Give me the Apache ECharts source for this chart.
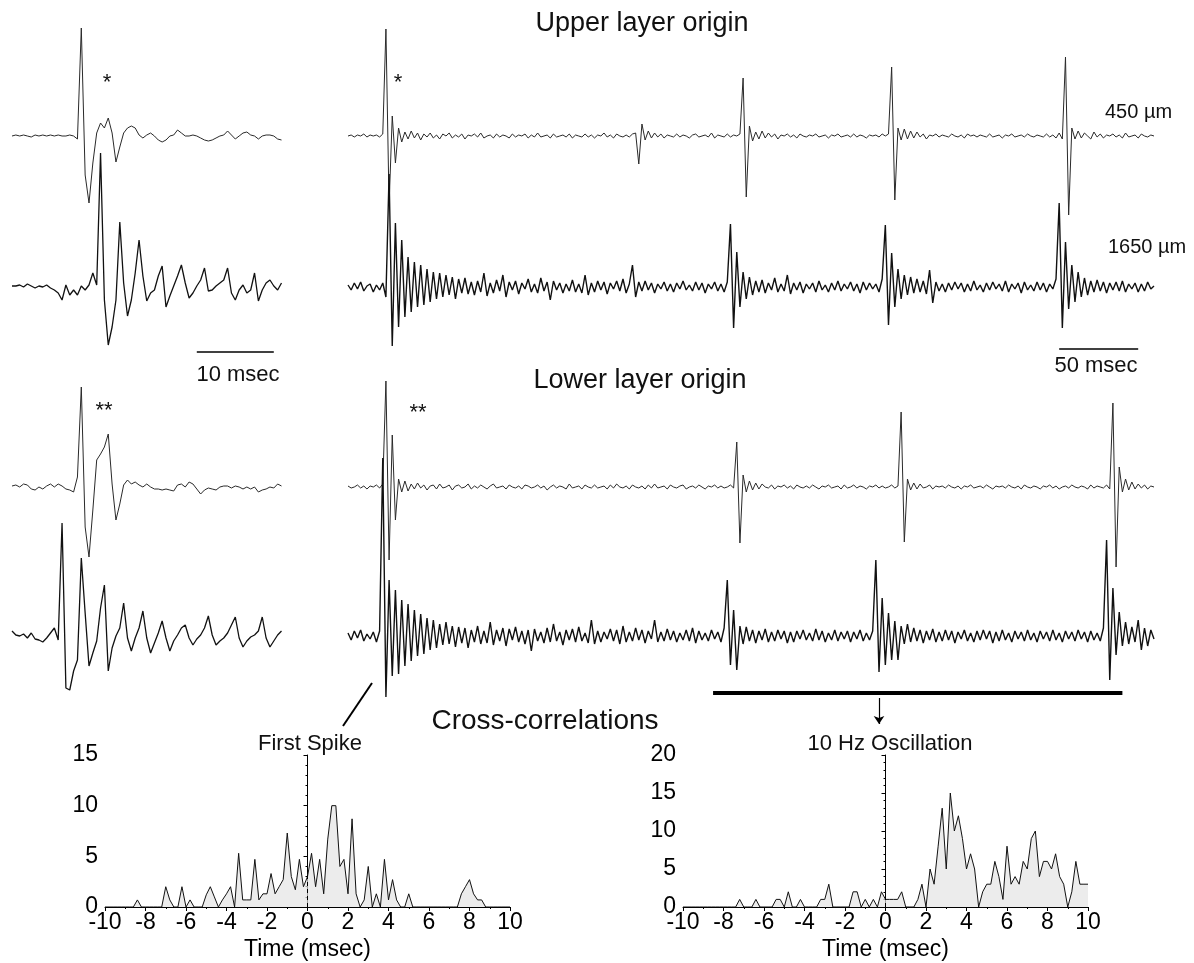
<!DOCTYPE html>
<html>
<head>
<meta charset="utf-8">
<title>Upper and lower layer origin</title>
<script src="https://cdn.jsdelivr.net/npm/echarts@6.0.0/dist/echarts.min.js"></script>
<style>
  html, body { margin: 0; padding: 0; background: #fff; }
  #main { width: 1194px; height: 963px; }
</style>
</head>
<body>
<div id="main"></div>
<script>
var FONT = '"Liberation Sans", Arial, sans-serif';

// short sweeps (left): one sample every 0.5 msec, 0-35 msec
var LEFT_STEP = 0.5;
var upperLeft450 = [
  0, 1, 0, 1, 0, -1, 1, 0, 1, 0, 1, 0, 1, 0, 0, 1, 0,
  -3, 108, -39, -67, -27, 3, 13, 8, 18, 3, -26, -11, 3, 8, 10, 8, 1, -2, 1,
  3, 0, -4, -6, -4, 0, 1, 6, 3, 0, 0, 1, 0, -2, -4, -5, -4, -2, 0, 1,
  5, 1, -3, 0, 3, 4, 1, 0, -3, 0, 1, 1, 0, -3, -4
];
var upperLeft1650 = [
  1, 1, 2, 0, 3, 1, -1, 1, 0, 2, -1, -3, -6, -13, 2, -8, -3, -8, 1, -3, 2,
  14, 2, 134, -13, -58, -40, -13, 65, 4, -29, -13, 14, 47, 11, -14, -6, -3, 11, 21,
  -20, -9, 1, 11, 22, 4, -11, -6, 1, 7, 19, -4, -3, 1, 4, 7, 19, -6, -13, -3,
  2, -6, -3, 14, -14, -3, 4, 7, 1, -3, 4
];
var lowerLeft450 = [
  1, 2, 0, 3, 2, -2, -3, 0, -2, 1, 3, 0, 3, 1, -2, -3, -5,
  10, 100, -40, -70, -23, 27, 33, 40, 53, 3, -33, -17, 2, 7, 3, 5, 2, 0, 3,
  0, -2, -2, -3, -2, -3, -4, 2, 3, 0, 5, 3, -2, -7, -3, -1, -2, -3, 0, 1,
  1, -1, 1, 0, -2, 0, -2, 0, -5, -3, -2, 0, -1, 3, 1
];
var lowerLeft1650 = [
  2, -2, -3, -1, -5, 0, -6, -7, -9, -5, 0, 5, -7,
  110, -55, -57, -38, -27, 75, 20, -33, -20, -8, 25, 48, -38, -15, -3, 5, 30,
  -5, -18, -5, 5, 22, -5, -20, -10, 0, 12, -5, -18, -8, -2, 5, 8, -5, -12, -6, -2,
  5, 17, -2, -12, -8, -5, 0, 8, 16, -5, -14, -8, -4, -2, 2, 16, -5, -14, -8, -2, 2
];

// long sweeps (right): one sample every 2 msec, 0-510 msec
var RIGHT_STEP = 2;
var upperRight450 = [
  0, 1, -1, 1, 0, 2, -1, 1, 0, 1,
  -1, 2, 107, -69, 20, -27, 8, -6, 4, -3,
  5, -2, 3, -4, 2, -1, 3, -2, 1, -3,
  2, 0, 3, -2, 1, -1, 2, -3, 1, 0,
  2, -1, 3, -2, 0, 1, -2, 2, -1, 1,
  0, -2, 2, -1, 1, 0, 2, -2, 1, -1,
  3, -1, 0, 1, -2, 2, -1, 0, 1, -1,
  2, -2, 1, 0, -1, 2, -1, 1, -2, 1,
  0, 3, -1, 1, -2, 2, 0, -1, 1, -1,
  2, 3, -28, 12, -4, 5, -2, 3, -1, 2,
  -2, 1, 0, -1, 2, -1, 1, 0, -2, 1,
  2, -1, 0, 1, -1, 3, -2, 1, 0, -1,
  2, -1, 1, 0, 2, 58, -61, 10, -5, 4,
  -3, 5, -2, 3, -1, 2, -3, 1, 0, 2,
  -1, 1, -2, 2, 0, -1, 1, 0, 2, -1,
  0, 1, -2, 1, 0, 2, -1, 0, 1, -1,
  2, -1, 1, 0, -2, 1, 0, 1, -1, 2,
  0, 2, 69, -64, 8, -4, 7, -3, 5, -2,
  4, -1, 2, -3, 1, 0, 2, -1, 1, 0,
  -1, 2, 0, -1, 1, -2, 2, 0, 1, -1,
  1, 0, -1, 2, -1, 0, 1, -2, 1, 0,
  2, -1, 0, 1, -1, 2, 0, -1, 1, 0,
  -1, 2, -1, 1, -2, 3, -3, 79, -79, 8,
  -3, 5, -2, 3, 0, -3, 4, -1, 2, -2,
  1, 0, 2, -1, 1, -2, 3, -1, 0, 1,
  -2, 2, 0, -1, 1, 0
];
var upperRight1650 = [
  2, -3, 4, -2, 5, -4, 1, 3, -5, 2,
  -3, 4, -10, 113, -59, 64, -40, 47, -30, 30,
  -25, 25, -20, 22, -18, 18, -15, 15, -12, 14,
  -10, 12, -8, 10, -12, 8, -6, 9, -7, 5,
  -8, 6, -5, 14, -9, 4, -6, 7, -4, 12,
  -10, 5, -3, 6, -7, 4, -2, 8, -5, 3,
  -6, 9, -4, 5, -13, 6, -3, 4, -6, 3,
  -4, 7, -5, 3, -6, 12, -8, 4, -5, 6,
  -3, 5, -7, 4, -2, 6, -4, 8, -6, 3,
  22, -10, 5, -4, 6, -3, 4, -6, 3, -2,
  5, -4, 3, -5, 4, -2, 6, -3, 2, -4,
  5, -3, 4, -6, 3, -2, 5, -4, 3, -5,
  5, 63, -41, 35, -20, 15, -12, 10, -8, 6,
  -5, 7, -6, 4, -3, 9, -5, 3, -4, 12,
  -7, 4, -3, 5, -6, 3, -2, 4, -5, 6,
  -3, 2, -5, 4, -3, 6, -4, 3, -2, 5,
  -4, 3, -6, 5, -3, 4, -2, 3, -5, 8,
  62, -38, 34, -20, 18, -12, 12, -8, 10, -6,
  8, -5, 6, -7, 17, -16, 5, -4, 3, -5,
  4, -3, 5, -2, 4, -5, 3, -4, 6, -3,
  2, -5, 4, -3, 5, -2, 3, -4, 6, -5,
  3, -2, 4, -6, 5, -3, 2, -4, 5, -3,
  4, -5, 3, -2, 8, 84, -41, 45, -22, 22,
  -15, 15, -10, 9, -8, 6, -5, 7, -4, 5,
  -6, 4, -3, 5, -4, 6, -5, 3, -2, 4,
  -5, 3, -4, 5, -2, 1
];
var lowerRight450 = [
  1, -1, 0, 2, -1, 1, -2, 1, 0, 2,
  -1, 3, 106, -73, 52, -33, 8, -5, 6, -4,
  3, -2, 4, -1, 2, -3, 1, 2, -2, 3,
  -1, 0, 2, -3, 1, 2, -1, 0, 3, -2,
  1, -1, 2, 0, -2, 1, 3, -1, 0, 1,
  -2, 2, 0, -1, 1, -2, 2, 1, -1, 0,
  2, -1, 1, -3, 0, 2, -1, 1, 0, -2,
  3, -1, 0, 1, -2, 2, 0, -1, 2, -1,
  0, 1, -2, 2, -1, 3, 0, -1, 1, -2,
  2, 0, -1, 1, -2, 2, -1, 3, -1, 0,
  1, -2, 2, 0, -1, 1, 2, -2, 0, 1,
  -1, 2, 0, -2, 1, 0, 2, -1, 1, -1,
  0, 2, -1, 45, -56, 12, -5, 6, -3, 4,
  -2, 3, 0, -1, 2, -2, 1, 0, 2, -1,
  1, -2, 2, 0, -1, 1, -1, 2, 0, -2,
  1, 0, 2, -1, 0, 1, -2, 2, -1, 0,
  2, -1, 1, 0, -2, 1, 0, 2, -1, 1,
  -1, 0, 2, -1, 1, 75, -55, 8, -3, 4,
  -2, 3, -1, 0, 2, -2, 1, 0, 1, -1,
  2, 0, -1, 1, -2, 1, 0, 2, -1, 0,
  1, -1, 2, 0, -2, 1, 0, 1, -1, 2,
  0, -1, 1, -2, 2, 0, -1, 1, 0, -2,
  1, 0, 2, -1, 1, -2, 0, 1, -1, 2,
  0, -1, 1, 0, -2, 2, -1, 1, 0, -1,
  2, -2, 84, -80, 20, -5, 8, -3, 5, -2,
  3, -1, 2, -2, 1, 0
];
var lowerRight1650 = [
  3, -4, 5, -2, 6, -5, 2, -3, 4, -6,
  5, 178, -61, 56, -40, 46, -38, 36, -30, 32,
  -25, 26, -20, 22, -18, 18, -14, 16, -12, 12,
  -9, 14, -8, 10, -11, 9, -7, 8, -12, 6,
  -6, 10, -8, 5, -7, 14, -9, 6, -5, 8,
  -10, 7, -4, 9, -6, 5, -8, 6, -15, 7,
  -5, 4, -7, 8, -6, 12, -5, 4, -9, 6,
  -4, 7, -6, 9, -5, 3, -7, 16, -8, 5,
  -6, 4, -3, 7, -5, 6, -8, 10, -6, 4,
  -5, 8, -4, 6, -7, 5, -3, 16, -6, 4,
  -5, 7, -4, 5, -6, 3, -4, 6, -5, 8,
  -7, 5, -4, 3, -5, 6, -3, 4, -6, 8,
  56, -29, 26, -34, 10, -8, 9, -5, 6, -7,
  5, -4, 7, -6, 4, -5, 6, -3, 5, -7,
  4, -6, 5, -3, 6, -4, 3, -5, 7, -4,
  5, -6, 3, -4, 6, -5, 4, -3, 5, -6,
  4, -3, 6, -5, 3, -4, 5, 76, -36, 38,
  -29, 23, -24, 15, -24, 10, -8, 12, -6, 8,
  -5, 6, -7, 5, -4, 7, -6, 4, -5, 6,
  -4, 5, -7, 4, -3, 6, -5, 3, -6, 5,
  -4, 6, -3, 5, -7, 4, -5, 6, -4, 3,
  -6, 5, -3, 4, -5, 6, -4, 3, -6, 5,
  -3, 4, -5, 6, -4, 3, -6, 5, -3, 4,
  -5, 6, -3, 4, -6, 5, -4, 3, -5, 8,
  96, -44, 48, -19, 24, -10, 14, -8, 9, -6,
  16, -14, 8, -10, 6, -3
];

// cross-correlation histograms, bins every 0.2 msec from -10 to 10
var LAG_START = -10;
var LAG_STEP = 0.2;
var firstSpikeCounts = [
  0, 0, 0, 0, 0, 0, 0, 0, 0.7, 0,
  0, 0, 0, 0, 0, 2, 0.7, 0, 0, 2,
  0, 0.7, 0, 0, 0, 1.2, 2, 1, 0, 0.7,
  1.3, 2, 0, 5.3, 0.7, 0.7, 0.7, 4.7, 0.7, 1.3,
  1.3, 3.3, 1.3, 2, 2.7, 7.3, 3, 1.7, 4.7, 2,
  3, 5.3, 2, 4.7, 1.3, 6.7, 10, 10, 4, 4.7,
  1.3, 8.7, 1.3, 0, 0.7, 4, 0, 1.3, 0, 4.7,
  0.7, 2.7, 0.7, 0, 0, 1.3, 0, 0, 0, 0,
  0, 0, 0, 0, 0, 0, 0, 0, 1.3, 2,
  2.7, 1.3, 0.7, 0.7, 0, 0, 0, 0, 0, 0,
  0
];
var oscillationCounts = [
  0, 0, 0, 0, 0, 0, 0, 0, 0, 0,
  0, 0, 0, 0, 1, 0, 0, 0, 1, 0,
  0, 0, 0, 1, 1, 0, 2, 0, 0, 1,
  0, 0, 0, 0, 1, 1, 3, 0, 0, 0,
  0, 0, 2, 2, 0, 1, 0, 1, 0, 2,
  1, 1, 1, 1, 2, 0, 0, 0, 1, 3,
  0, 5, 3, 8, 13, 5, 15, 10, 12, 9,
  5, 7, 5, 0, 2, 3, 3, 6, 4, 1,
  8, 3, 4, 3, 6, 5, 9, 10, 4, 6,
  6, 5, 7, 4, 3, 0, 2, 6, 3, 3,
  3
];
var lagTicks = [-10, 10, 2];
var firstSpikeYTicks = [0, 15, 5];
var oscillationYTicks = [0, 20, 5];

function toPairs(values, start, step) {
  return values.map(function (v, i) {
    return [Math.round((start + i * step) * 100) / 100, v];
  });
}

var chart = echarts.init(document.getElementById('main'));

// trace panels: 1 unit on the y axis is one pixel, baseline at grid middle
var panels = [
  { data: upperLeft450, step: LEFT_STEP, max: 35, left: 12, width: 269.5, base: 136, color: '#2a2a2a', w: 1 },
  { data: upperLeft1650, step: LEFT_STEP, max: 35, left: 12, width: 269.5, base: 287, color: '#111', w: 1.3 },
  { data: upperRight450, step: RIGHT_STEP, max: 510, left: 348, width: 806, base: 136, color: '#2a2a2a', w: 1 },
  { data: upperRight1650, step: RIGHT_STEP, max: 510, left: 348, width: 806, base: 287, color: '#111', w: 1.4 },
  { data: lowerLeft450, step: LEFT_STEP, max: 35, left: 12, width: 269.5, base: 487, color: '#2a2a2a', w: 1 },
  { data: lowerLeft1650, step: LEFT_STEP, max: 35, left: 12, width: 269.5, base: 633, color: '#111', w: 1.3 },
  { data: lowerRight450, step: RIGHT_STEP, max: 510, left: 348, width: 806, base: 487, color: '#2a2a2a', w: 1 },
  { data: lowerRight1650, step: RIGHT_STEP, max: 510, left: 348, width: 806, base: 636, color: '#111', w: 1.4 }
];

var grids = [], xAxes = [], yAxes = [], series = [];

panels.forEach(function (p, k) {
  grids.push({ left: p.left, top: p.base - 100, width: p.width, height: 200 });
  xAxes.push({ gridIndex: k, type: 'value', min: 0, max: p.max, show: false });
  yAxes.push({ gridIndex: k, type: 'value', min: -100, max: 100, show: false });
  series.push({
    type: 'line',
    xAxisIndex: k,
    yAxisIndex: k,
    data: toPairs(p.data, 0, p.step),
    showSymbol: false,
    clip: false,
    silent: true,
    lineStyle: { color: p.color, width: p.w },
    z: 3
  });
});

function bar(from, to, width, endSymbol) {
  return [
    { coord: from, symbol: 'none' },
    { coord: to, symbol: endSymbol || 'none', symbolSize: 8, lineStyle: { width: width } }
  ];
}

var barStyle = {
  silent: true,
  symbol: 'none',
  label: { show: false },
  lineStyle: { color: '#000', type: 'solid', width: 1.5 },
  animation: false
};

// 10 msec scale bar under the upper-left sweeps
series[1].markLine = Object.assign({}, barStyle, { data: [bar([24, -65], [34, -65], 1.5)] });
// 50 msec scale bar under the upper-right sweeps
series[3].markLine = Object.assign({}, barStyle, { data: [bar([450, -62], [500, -62], 1.5)] });
// 10 Hz oscillation window and arrow
series[7].markLine = Object.assign({}, barStyle, {
  data: [bar([231, -57], [490, -57], 4), bar([336, -62], [336, -88], 1.2, 'arrow')]
});

function histAxes(k, left, yTicks, dashTop) {
  grids.push({ left: left, top: 755, width: 405, height: 152 });
  xAxes.push({
    gridIndex: k, type: 'value', min: lagTicks[0], max: lagTicks[1], interval: lagTicks[2],
    name: 'Time (msec)', nameLocation: 'middle', nameGap: 31,
    nameTextStyle: { fontSize: 23, color: '#000', fontFamily: FONT },
    axisLine: { show: true, onZero: false, lineStyle: { color: '#000', width: 1 } },
    axisTick: { show: true, length: 4, lineStyle: { color: '#000' } },
    minorTick: { show: true, splitNumber: 2, length: 2, lineStyle: { color: '#000' } },
    axisLabel: { fontSize: 23, color: '#000', fontFamily: FONT, margin: 4 },
    splitLine: { show: false }
  });
  yAxes.push({
    gridIndex: k, type: 'value', min: yTicks[0], max: yTicks[1], interval: yTicks[2],
    axisLine: { show: true, lineStyle: { color: '#000', width: 1 } },
    axisTick: { show: true, length: 4, lineStyle: { color: '#000' } },
    minorTick: { show: true, splitNumber: 5, length: 2, lineStyle: { color: '#000' } },
    axisLabel: { fontSize: 23, color: '#000', fontFamily: FONT, margin: 7 },
    splitLine: { show: false }
  });
  return {
    silent: true,
    symbol: 'none',
    label: { show: false },
    lineStyle: { color: '#000', type: [4, 3], width: 1 },
    data: [[{ coord: [0, 0] }, { coord: [0, dashTop] }]]
  };
}

var mlLeft = histAxes(8, 105, firstSpikeYTicks, 12.9);
var mlRight = histAxes(9, 683, oscillationYTicks, 17.7);

[[firstSpikeCounts, mlLeft], [oscillationCounts, mlRight]].forEach(function (h, j) {
  series.push({
    type: 'line',
    xAxisIndex: 8 + j,
    yAxisIndex: 8 + j,
    data: toPairs(h[0], LAG_START, LAG_STEP),
    showSymbol: false,
    silent: true,
    lineStyle: { color: '#111', width: 1 },
    areaStyle: { color: '#e4e4e4' },
    markLine: h[1]
  });
});

function label(text, x, y, size, align) {
  return {
    type: 'text',
    x: x,
    y: y,
    silent: true,
    style: {
      text: text,
      fill: '#111',
      font: size + 'px ' + FONT,
      textAlign: align || 'center',
      textVerticalAlign: 'middle'
    }
  };
}

var option = {
  animation: false,
  backgroundColor: '#fff',
  grid: grids,
  xAxis: xAxes,
  yAxis: yAxes,
  series: series,
  graphic: [
    label('Upper layer origin', 642, 24, 27),
    label('Lower layer origin', 640, 381, 27),
    label('Cross-correlations', 545, 721, 28),
    label('450 µm', 1105, 112, 20, 'left'),
    label('1650 µm', 1108, 247, 20, 'left'),
    label('10 msec', 238, 375, 22),
    label('50 msec', 1096, 366, 22),
    label('*', 107, 83, 22),
    label('*', 398, 83, 22),
    label('**', 104, 411, 22),
    label('**', 418, 413, 22),
    label('First Spike', 310, 744, 22),
    label('10 Hz Oscillation', 890, 744, 22),
    {
      type: 'line',
      silent: true,
      shape: { x1: 372, y1: 683, x2: 343, y2: 726 },
      style: { stroke: '#000', lineWidth: 2 }
    }
  ]
};

chart.setOption(option);
</script>
</body>
</html>
